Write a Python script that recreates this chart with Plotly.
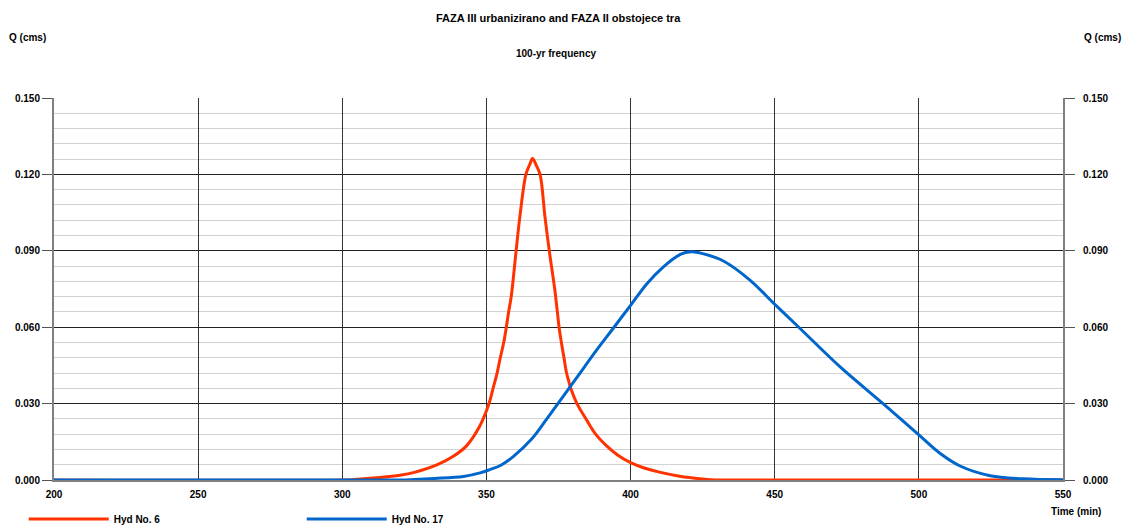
import plotly.graph_objects as go

# ---- data ----
hyd6_time = [200, 300, 304, 313, 320, 325, 333, 338.5, 343, 347.7, 350.9, 352.3, 353.7, 354.8,
             356.0, 356.9, 357.7, 358.6, 360.3, 361.6, 363.7, 365, 366, 367.2, 368.6, 370.3,
             371.8, 373.7, 374.6, 375.2, 376.0, 376.9, 377.7, 378.5, 379.4, 381.4, 384.8, 388,
             391.7, 395.5, 400, 405, 410, 417, 421, 428, 430, 550]
hyd6_q = [0, 0, 0.0002, 0.001, 0.0019, 0.003, 0.006, 0.0093, 0.0133, 0.0212, 0.030, 0.036,
          0.042, 0.048, 0.054, 0.060, 0.066, 0.072, 0.090, 0.1034, 0.120, 0.1238, 0.1262, 0.1238,
          0.120, 0.1034, 0.090, 0.0749, 0.066, 0.060, 0.054, 0.048, 0.0425, 0.039, 0.0355,
          0.030, 0.0235, 0.0178, 0.0134, 0.0098, 0.0068, 0.0046, 0.0031, 0.0015, 0.0009,
          0.0001, 0, 0]

hyd17_time = [200, 320, 325, 332, 342, 347.8, 351, 355, 359.3, 365.6, 370, 374.8, 381.2, 388.2,
              394, 400, 405.6, 411.3, 417.1, 421, 425, 432.2, 441.4, 450, 458.8, 472.6, 488.2,
              500, 507.3, 514.3, 524.7, 536, 550]
hyd17_q = [0, 0, 0.0002, 0.0006, 0.0014, 0.0028, 0.0040, 0.0058, 0.0092, 0.016, 0.0225, 0.030,
           0.040, 0.051, 0.0596, 0.0686, 0.077, 0.0836, 0.0885, 0.0896, 0.0889, 0.0860, 0.0785,
           0.069, 0.0595, 0.0445, 0.0294, 0.0177, 0.0105, 0.0055, 0.0017, 0.0005, 0.0001]

x_ticks = [200, 250, 300, 350, 400, 450, 500, 550]
y_ticks = [0.0, 0.03, 0.06, 0.09, 0.12, 0.15]

title_text = "FAZA III urbanizirano and FAZA II obstojece tra"
subtitle_text = "100-yr frequency"
y_label = "Q (cms)"
x_label = "Time (min)"

FONT = "Liberation Sans, Arial, sans-serif"
RED = "#ff3300"
BLUE = "#0066cc"

fig = go.Figure()
fig.add_trace(go.Scatter(x=hyd6_time, y=hyd6_q, mode="lines", name="Hyd No. 6",
                         line=dict(color=RED, width=3, shape="spline", smoothing=1.0)))
fig.add_trace(go.Scatter(x=hyd17_time, y=hyd17_q, mode="lines", name="Hyd No. 17",
                         line=dict(color=BLUE, width=3, shape="spline", smoothing=1.0)))
# anchor trace for the right-hand axis
fig.add_trace(go.Scatter(x=[None], y=[None], yaxis="y2", showlegend=False,
                         hoverinfo="skip", mode="lines"))

tickfont = dict(family=FONT, size=10, color="#000", weight="bold")

fig.update_layout(
    width=1131, height=526,
    margin=dict(l=54, r=68, t=98, b=46, autoexpand=False),
    paper_bgcolor="white", plot_bgcolor="white",
    title=dict(text=title_text, x=0.4935, xanchor="center", y=1 - 18 / 526, yanchor="middle",
               font=dict(family=FONT, size=11, color="#000", weight="bold")),
    xaxis=dict(range=[200, 550], tickvals=x_ticks, ticktext=[str(v) for v in x_ticks],
               showgrid=True, gridcolor="#333333", gridwidth=1,
               showline=True, linecolor="#808080", linewidth=2,
               ticks="", tickfont=tickfont, zeroline=False, ticklabelstandoff=4),
    yaxis=dict(range=[0, 0.15], tickvals=y_ticks, tickformat=".3f",
               showgrid=True, gridcolor="#222222", gridwidth=1,
               minor=dict(dtick=0.006, showgrid=True, gridcolor="#d2d2d2", gridwidth=1),
               showline=True, linecolor="#808080", linewidth=2,
               ticks="outside", ticklen=10, tickcolor="#555555", tickwidth=1,
               tickfont=tickfont, zeroline=False),
    yaxis2=dict(range=[0, 0.15], tickvals=y_ticks, tickformat=".3f", overlaying="y",
                side="right", showgrid=False, showline=True, linecolor="#808080", linewidth=2,
                ticks="outside", ticklen=10, tickcolor="#555555", tickwidth=1,
                tickfont=tickfont, zeroline=False, ticklabelstandoff=6),
    legend=dict(orientation="h", x=-0.03, y=-0.102, xanchor="left", yanchor="middle",
                entrywidth=183, entrywidthmode="pixels", itemwidth=80,
                font=dict(family=FONT, size=10, color="#000", weight="bold"),
                bgcolor="rgba(0,0,0,0)"),
    showlegend=True,
)

ann_font = dict(family=FONT, size=10, color="#000", weight="bold")
fig.add_annotation(text=subtitle_text, xref="paper", yref="paper", x=0.4975, y=(480 - 54) / 382,
                   showarrow=False, font=ann_font, xanchor="center", yanchor="middle")
fig.add_annotation(text=y_label, xref="paper", yref="paper", x=(27.5 - 54) / 1009,
                   y=(480 - 37) / 382, showarrow=False, font=ann_font,
                   xanchor="center", yanchor="middle")
fig.add_annotation(text=y_label, xref="paper", yref="paper", x=(1102 - 54) / 1009,
                   y=(480 - 37) / 382, showarrow=False, font=ann_font,
                   xanchor="center", yanchor="middle")
fig.add_annotation(text=x_label, xref="paper", yref="paper", x=(1076 - 54) / 1009,
                   y=(480 - 511) / 382, showarrow=False, font=ann_font,
                   xanchor="center", yanchor="middle")

fig.write_html("out.html")
